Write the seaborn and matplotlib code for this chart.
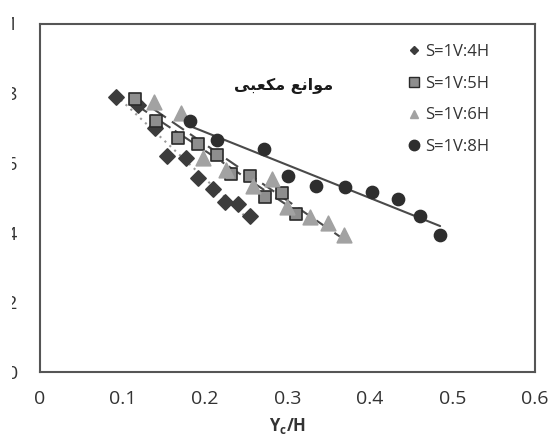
import numpy as np
import pandas as pd
import seaborn as sns
import matplotlib.pyplot as plt
from matplotlib.lines import Line2D
from matplotlib.patches import Rectangle

# data (x = Yc/H)
labels = ["S=1V:4H", "S=1V:5H", "S=1V:6H", "S=1V:8H"]

x_4h = [0.092, 0.119, 0.139, 0.154, 0.177, 0.191, 0.210, 0.224, 0.240, 0.255]
y_4h = [0.790, 0.766, 0.699, 0.621, 0.613, 0.556, 0.524, 0.489, 0.482, 0.448]

x_5h = [0.115, 0.141, 0.167, 0.191, 0.214, 0.232, 0.255, 0.273, 0.293, 0.310]
y_5h = [0.783, 0.720, 0.671, 0.654, 0.623, 0.568, 0.562, 0.503, 0.513, 0.453]

x_6h = [0.138, 0.171, 0.198, 0.225, 0.258, 0.281, 0.299, 0.327, 0.349, 0.369]
y_6h = [0.776, 0.742, 0.613, 0.580, 0.535, 0.554, 0.473, 0.445, 0.427, 0.393]

x_8h = [0.182, 0.215, 0.271, 0.300, 0.335, 0.370, 0.403, 0.434, 0.461, 0.485]
y_8h = [0.721, 0.666, 0.639, 0.563, 0.533, 0.530, 0.517, 0.496, 0.449, 0.393]

x_ticks = [0, 0.1, 0.2, 0.3, 0.4, 0.5, 0.6]
y_ticks = [0, 0.2, 0.4, 0.6, 0.8, 1]
y_ticklabels = ["0", "0.2", "0.4", "0.6", "0.8", "1"]

# "موانع مکعبی" written in shaped (presentation) forms, visual order
title_fa = "\uFBFD\uFE92\uFECC\uFB91\uFEE3 \uFECA\uFEE7\uFE8D\uFEEE\uFEE3"

df = pd.DataFrame({
    "x": x_4h + x_5h + x_6h + x_8h,
    "y": y_4h + y_5h + y_6h + y_8h,
    "series": np.repeat(labels, 10),
})

sns.set_style("white")
plt.rcParams["font.family"] = ["Open Sans", "DejaVu Sans"]
plt.rcParams["mathtext.fontset"] = "custom"
plt.rcParams["mathtext.bf"] = "Open Sans:bold"
plt.rcParams["mathtext.rm"] = "Open Sans"

axis_col = "#555555"
face = {"S=1V:4H": "#3c3c3c", "S=1V:5H": "#8e8e8e", "S=1V:6H": "#a2a2a2", "S=1V:8H": "#2e2e2e"}
edge = {"S=1V:4H": "#3c3c3c", "S=1V:5H": "#2a2a2a", "S=1V:6H": "#a2a2a2", "S=1V:8H": "#2e2e2e"}
marks = {"S=1V:4H": "D", "S=1V:5H": "s", "S=1V:6H": "^", "S=1V:8H": "o"}
msize = {"S=1V:4H": 60, "S=1V:5H": 85, "S=1V:6H": 110, "S=1V:8H": 75}
lstyle = {"S=1V:4H": (0, (1, 2.2)), "S=1V:5H": (0, (7, 2.5, 1.5, 2.5)),
          "S=1V:6H": (0, (7, 3.5)), "S=1V:8H": "-"}
lcol = {"S=1V:4H": "#9a9a9a", "S=1V:5H": "#4a4a4a", "S=1V:6H": "#4a4a4a", "S=1V:8H": "#4a4a4a"}

fig = plt.figure(figsize=(5.51, 4.37), dpi=100)
ax = fig.add_axes([40 / 551, 65 / 437, 495 / 551, 348.5 / 437])

for lab in labels:
    sub = df[df["series"] == lab]
    sns.regplot(data=sub, x="x", y="y", ax=ax, scatter=False, ci=None, truncate=True,
                line_kws={"color": lcol[lab], "linestyle": lstyle[lab], "linewidth": 1.5})

for lab in labels:
    sub = df[df["series"] == lab]
    sns.scatterplot(data=sub, x="x", y="y", ax=ax, marker=marks[lab], s=msize[lab],
                    color=face[lab], edgecolor=edge[lab], linewidth=1.2, zorder=3)

ax.set_xlim(0, 0.6)
ax.set_ylim(0, 1)
ax.set_xticks(x_ticks)
ax.set_xticklabels([f"{t:g}" for t in x_ticks])
ax.set_yticks(y_ticks)
ax.set_yticklabels(y_ticklabels)
ax.tick_params(axis="both", direction="in", length=5, width=1.2, color=axis_col,
               labelsize=14, labelcolor="#333333")
ax.tick_params(axis="y", pad=16)
ax.tick_params(axis="x", pad=13)
for sp in ax.spines.values():
    sp.set_color(axis_col)
    sp.set_linewidth(1.5)

ax.set_xlabel(r"$\mathbf{Y_c/H}$", fontsize=12, color="#333333", labelpad=6)
ax.set_ylabel("")

ax.text(0.2955, 0.82, title_fa, fontsize=11.5, fontweight="bold", family=["DejaVu Sans"],
        ha="center", va="center", color="#1a1a1a")

handles = [Line2D([], [], linestyle="none", marker=marks[lab], markersize=ms,
                  markerfacecolor=face[lab], markeredgecolor=edge[lab], markeredgewidth=1)
           for lab, ms in zip(labels, [4.5, 7, 5.5, 7.5])]
ax.legend(handles, labels, loc="upper left", bbox_to_anchor=(0.705, 0.985), frameon=False,
          fontsize=12, labelspacing=0.95, handletextpad=0.05, handlelength=1.2,
          labelcolor="#333333")

# the reference image is cropped on its left edge
fig.add_artist(Rectangle((0, 0), 12 / 551, 1, transform=fig.transFigure,
                         facecolor="white", edgecolor="none", zorder=10))

fig.savefig("out.png", dpi=100)
